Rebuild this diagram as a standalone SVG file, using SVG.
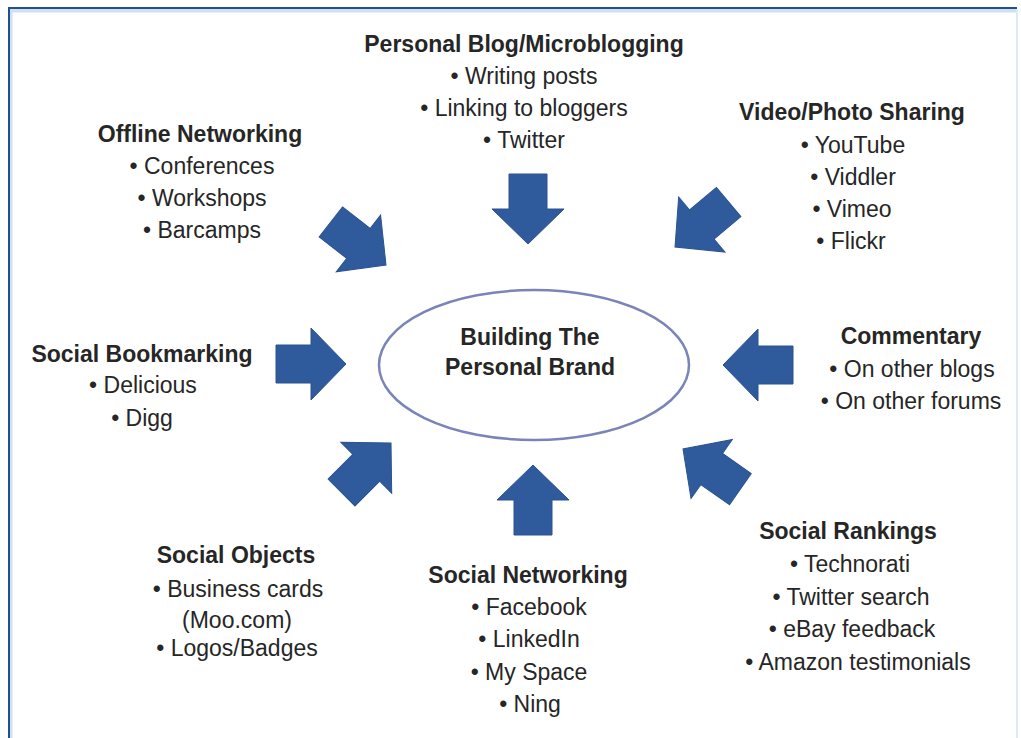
<svg xmlns="http://www.w3.org/2000/svg" width="1021" height="738" viewBox="0 0 1021 738">
  <style>
    text { font-family: "Liberation Sans", Arial, sans-serif; font-size: 23px; fill: #262626; text-anchor: middle; }
    .title { font-weight: bold; }
    .arrow { fill: #2f5b9d; stroke: #2a5390; stroke-width: 1; stroke-linejoin: miter; }
    .hub { fill: #ffffff; stroke: #7a84b8; stroke-width: 2.5; }
  </style>
  <defs>
    <!-- block arrow pointing along +x, tip at the origin -->
    <polygon id="blockArrow" points="-70,-19 -35,-19 -35,-36 0,0 -35,36 -35,19 -70,19"/>
  </defs>

  <rect x="0" y="0" width="1021" height="738" fill="#ffffff"/>

  <!-- frame -->
  <g id="frame" fill="none">
    <path d="M10.5,738 V10.5 H1017" stroke="#cfe0f3" stroke-width="4"/>
    <path d="M9,738 V8 H1017" stroke="#21508f" stroke-width="2"/>
    <line x1="1017" y1="9" x2="1017" y2="738" stroke="#dce9f6" stroke-width="2"/>
  </g>

  <!-- centre -->
  <g id="hub">
    <ellipse class="hub" cx="534" cy="365" rx="155" ry="75"/>
    <text class="title" x="530" y="345">Building The</text>
    <text class="title" x="530" y="375">Personal Brand</text>
  </g>

  <!-- connectors -->
  <g id="connectors">
    <use href="#blockArrow" class="arrow" transform="translate(528,244) rotate(90)"/>
    <use href="#blockArrow" class="arrow" transform="translate(533,465) rotate(-90)"/>
    <use href="#blockArrow" class="arrow" transform="translate(346,364)"/>
    <use href="#blockArrow" class="arrow" transform="translate(723,365) rotate(180)"/>
    <use href="#blockArrow" class="arrow" transform="translate(386,265) rotate(38)"/>
    <use href="#blockArrow" class="arrow" transform="translate(675,247) rotate(140)"/>
    <use href="#blockArrow" class="arrow" transform="translate(391,443) rotate(-45)"/>
    <use href="#blockArrow" class="arrow" transform="translate(683,449) rotate(-145)"/>
  </g>

  <g id="blogging">
    <text class="title" x="524" y="52">Personal Blog/Microblogging</text>
    <text x="524" y="84">• Writing posts</text>
    <text x="524" y="116">• Linking to bloggers</text>
    <text x="524" y="148">• Twitter</text>
  </g>

  <g id="offline">
    <text class="title" x="200" y="142">Offline Networking</text>
    <text x="202" y="174">• Conferences</text>
    <text x="202" y="206">• Workshops</text>
    <text x="202" y="238">• Barcamps</text>
  </g>

  <g id="sharing">
    <text class="title" x="852" y="120">Video/Photo Sharing</text>
    <text x="853" y="153">• YouTube</text>
    <text x="853" y="185">• Viddler</text>
    <text x="852" y="217">• Vimeo</text>
    <text x="851" y="249">• Flickr</text>
  </g>

  <g id="bookmarking">
    <text class="title" x="142" y="362">Social Bookmarking</text>
    <text x="143" y="393">• Delicious</text>
    <text x="142" y="426">• Digg</text>
  </g>

  <g id="commentary">
    <text class="title" x="911" y="344">Commentary</text>
    <text x="912" y="377">• On other blogs</text>
    <text x="911" y="409">• On other forums</text>
  </g>

  <g id="objects">
    <text class="title" x="236" y="563">Social Objects</text>
    <text x="238" y="597">• Business cards</text>
    <text x="237" y="628">(Moo.com)</text>
    <text x="237" y="656">• Logos/Badges</text>
  </g>

  <g id="networking">
    <text class="title" x="528" y="583">Social Networking</text>
    <text x="529" y="615">• Facebook</text>
    <text x="529" y="647">• LinkedIn</text>
    <text x="529" y="680">• My Space</text>
    <text x="530" y="712">• Ning</text>
  </g>

  <g id="rankings">
    <text class="title" x="848" y="539">Social Rankings</text>
    <text x="850" y="572">• Technorati</text>
    <text x="851" y="605">• Twitter search</text>
    <text x="852" y="637">• eBay feedback</text>
    <text x="858" y="670">• Amazon testimonials</text>
  </g>
</svg>
